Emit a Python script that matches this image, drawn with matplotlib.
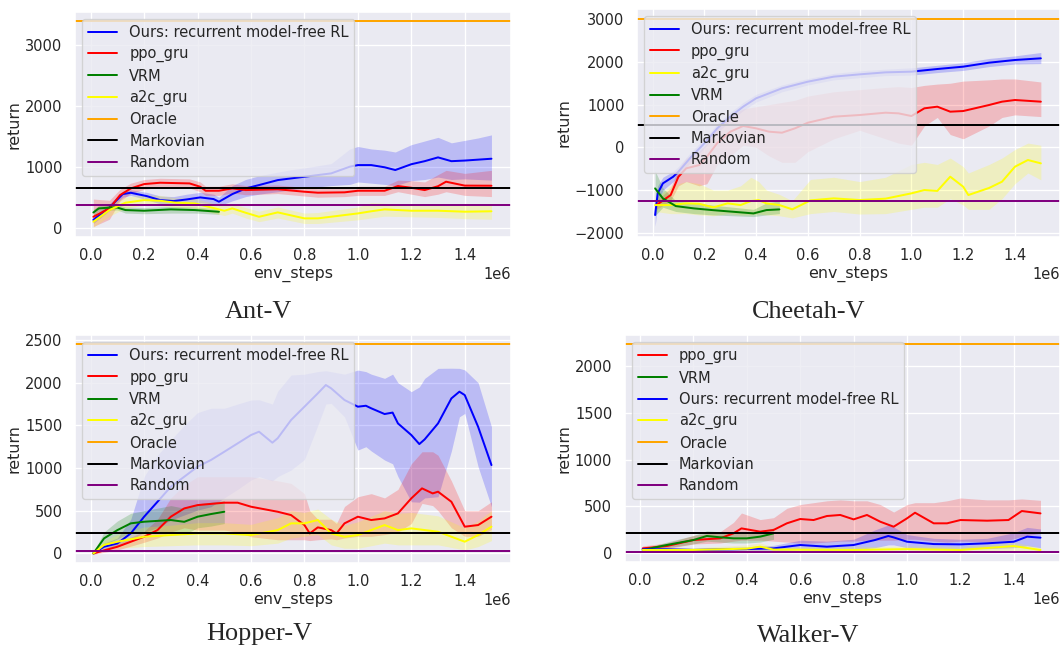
import matplotlib
matplotlib.use("Agg")
import matplotlib.pyplot as plt
import numpy as np
import seaborn as sns

# ---------------- Ant-V ----------------
ant_ours_x = [0.01, 0.07, 0.12, 0.15, 0.21, 0.26, 0.31, 0.36, 0.41, 0.46, 0.48, 0.53, 0.58, 0.63, 0.7, 0.75,
              0.8, 0.9, 0.97, 1.0, 1.05, 1.1, 1.14, 1.2, 1.25, 1.3, 1.35, 1.4, 1.45, 1.5]
ant_ours = [140, 343, 561, 583, 528, 463, 447, 474, 507, 480, 436, 561, 654, 709, 790, 818,
            845, 900, 1010, 1036, 1036, 1000, 955, 1050, 1100, 1162, 1100, 1110, 1125, 1140]
ant_ours_lo = [80, 290, 510, 540, 470, 400, 380, 400, 420, 400, 370, 450, 520, 560, 600, 630,
               660, 700, 720, 760, 740, 720, 700, 780, 800, 840, 800, 810, 800, 790]
ant_ours_hi = [200, 400, 610, 630, 590, 530, 520, 560, 590, 560, 510, 700, 800, 860, 920, 960,
               990, 1060, 1300, 1340, 1300, 1280, 1250, 1370, 1430, 1490, 1400, 1440, 1480, 1530]

ant_ppo_x = [0.01, 0.07, 0.11, 0.15, 0.2, 0.26, 0.37, 0.41, 0.43, 0.48, 0.53, 0.58, 0.7, 0.8, 0.85, 0.95,
             1.0, 1.1, 1.15, 1.2, 1.25, 1.3, 1.33, 1.4, 1.5]
ant_ppo = [190, 327, 545, 654, 725, 747, 736, 681, 616, 616, 654, 627, 640, 600, 584, 590,
           616, 616, 693, 665, 627, 690, 764, 700, 698]
ant_ppo_lo = [30, 150, 450, 570, 640, 670, 660, 600, 540, 540, 580, 550, 570, 530, 510, 520,
              540, 540, 600, 560, 520, 560, 600, 540, 520]
ant_ppo_hi = [480, 460, 640, 740, 800, 820, 810, 760, 690, 690, 730, 700, 710, 670, 650, 660,
              690, 690, 790, 780, 760, 880, 950, 900, 950]

ant_vrm_x = [0.01, 0.03, 0.08, 0.1, 0.13, 0.2, 0.3, 0.39, 0.48]
ant_vrm = [260, 327, 343, 340, 300, 289, 311, 300, 272]
ant_vrm_lo = [190, 280, 300, 300, 250, 240, 250, 250, 230]
ant_vrm_hi = [310, 370, 390, 390, 350, 340, 360, 350, 320]

ant_a2c_x = [0.01, 0.07, 0.13, 0.2, 0.26, 0.32, 0.39, 0.45, 0.5, 0.53, 0.58, 0.63, 0.7, 0.8, 0.85, 0.9,
             1.0, 1.05, 1.1, 1.2, 1.3, 1.4, 1.5]
ant_a2c = [109, 300, 420, 463, 452, 420, 409, 343, 289, 327, 256, 190, 262, 164, 164, 191,
           245, 280, 311, 289, 289, 273, 280]
ant_a2c_lo = [20, 200, 330, 380, 370, 340, 330, 260, 210, 250, 170, 110, 170, 80, 80, 100,
              140, 170, 200, 190, 180, 160, 150]
ant_a2c_hi = [200, 400, 510, 550, 540, 500, 490, 420, 370, 400, 340, 280, 350, 250, 260, 290,
              350, 420, 410, 390, 400, 390, 390]

ant_oracle, ant_markov, ant_random = 3400, 655, 382

# ---------------- Cheetah-V ----------------
cheetah_ours_x = [0.01, 0.02, 0.04, 0.08, 0.1, 0.15, 0.2, 0.25, 0.3, 0.35, 0.4, 0.5, 0.6, 0.7, 0.8, 0.9,
                  1.0, 1.1, 1.2, 1.3, 1.4, 1.5]
cheetah_ours = [-1583, -1076, -842, -686, -569, -218, 94, 445, 718, 952, 1147, 1381, 1537, 1654, 1708, 1755,
                1771, 1833, 1888, 1981, 2044, 2083]
cheetah_ours_lo = [-1850, -1300, -1000, -800, -680, -330, -20, 340, 620, 860, 1060, 1300, 1460, 1580, 1630, 1680,
                   1690, 1750, 1800, 1890, 1950, 1960]
cheetah_ours_hi = [-1300, -900, -700, -560, -450, -100, 200, 550, 820, 1050, 1240, 1460, 1610, 1730, 1790, 1830,
                   1860, 1920, 1980, 2080, 2140, 2220]

cheetah_ppo_x = [0.015, 0.07, 0.1, 0.13, 0.18, 0.21, 0.25, 0.3, 0.35, 0.4, 0.45, 0.5, 0.55, 0.6, 0.7, 0.8,
                 0.9, 0.95, 1.0, 1.05, 1.1, 1.15, 1.2, 1.3, 1.35, 1.4, 1.5]
cheetah_ppo = [-1350, -1116, -688, -491, -414, -220, 100, 365, 500, 445, 367, 343, 445, 577, 718, 757,
               811, 796, 733, 913, 952, 835, 850, 991, 1069, 1108, 1069]
cheetah_ppo_lo = [-1450, -1250, -900, -800, -900, -850, -400, -200, 50, 0, -200, -350, -350, -100, 200, 400,
                  200, 100, 50, 500, 700, 300, 200, 500, 700, 760, 720]
cheetah_ppo_hi = [-1250, -950, -500, -250, -100, 100, 450, 750, 900, 950, 1000, 1050, 1100, 1200, 1300, 1350,
                  1400, 1420, 1400, 1450, 1480, 1500, 1550, 1580, 1600, 1600, 1530]

cheetah_a2c_x = [0.01, 0.07, 0.13, 0.18, 0.235, 0.29, 0.34, 0.38, 0.41, 0.44, 0.49, 0.54, 0.61, 0.7, 0.8, 0.9,
                 1.0, 1.05, 1.1, 1.15, 1.2, 1.22, 1.3, 1.35, 1.4, 1.45, 1.5]
cheetah_a2c = [-1350, -1350, -1310, -1320, -1404, -1310, -1350, -1256, -1233, -1310, -1350, -1450, -1240, -1193,
               -1232, -1200, -1076, -998, -1020, -686, -920, -1115, -950, -803, -452, -296, -374]
cheetah_a2c_lo = [-1500, -1550, -1550, -1580, -1600, -1550, -1580, -1580, -1560, -1580, -1600, -1650, -1550, -1500,
                  -1560, -1550, -1450, -1400, -1400, -1200, -1350, -1450, -1450, -1200, -850, -600, -760]
cheetah_a2c_hi = [-1200, -900, -800, -850, -1000, -1000, -900, -700, -800, -1000, -1100, -1250, -750, -700,
                  -800, -700, -400, -350, -400, -250, -450, -600, -400, -250, -50, 100, 50]

cheetah_vrm_x = [0.01, 0.04, 0.09, 0.16, 0.23, 0.31, 0.39, 0.44, 0.49]
cheetah_vrm = [-960, -1194, -1374, -1428, -1467, -1506, -1545, -1467, -1451]
cheetah_vrm_lo = [-1600, -1400, -1500, -1550, -1580, -1600, -1620, -1580, -1550]
cheetah_vrm_hi = [-550, -950, -1250, -1300, -1350, -1400, -1450, -1300, -1250]

cheetah_oracle, cheetah_markov, cheetah_random = 3000, 523, -1256

# ---------------- Hopper-V ----------------
hopper_ours_x = [0.01, 0.05, 0.1, 0.15, 0.2, 0.25, 0.3, 0.35, 0.4, 0.45, 0.5, 0.55, 0.6, 0.63, 0.68, 0.7,
                 0.75, 0.8, 0.85, 0.88, 0.9, 0.95, 1.0, 1.03, 1.05, 1.1, 1.13, 1.15, 1.2, 1.23, 1.25, 1.3,
                 1.35, 1.38, 1.4, 1.45, 1.5]
hopper_ours = [0, 78, 117, 234, 430, 605, 781, 898, 1016, 1094, 1191, 1289, 1387, 1426, 1297, 1350,
               1563, 1719, 1875, 1973, 1934, 1797, 1719, 1730, 1700, 1633, 1650, 1523, 1387, 1281, 1336, 1523,
               1816, 1895, 1855, 1484, 1035]
hopper_ours_lo = [-10, 40, 80, 150, 250, 300, 391, 450, 508, 547, 650, 750, 859, 900, 850, 900,
                  977, 1100, 1500, 1750, 1758, 1600, 1211, 1250, 1200, 1094, 1050, 900, 605, 600, 650, 664,
                  1200, 1600, 1640, 1016, 547]
hopper_ours_hi = [10, 120, 180, 400, 900, 1150, 1328, 1500, 1650, 1700, 1700, 1750, 1797, 1800, 1750, 1900,
                  2090, 2100, 2130, 2140, 2129, 2100, 2148, 2130, 2100, 2051, 2100, 2000, 1895, 1950, 2050, 2168,
                  2170, 2168, 2150, 2000, 1484]

hopper_ppo_x = [0.01, 0.1, 0.2, 0.25, 0.3, 0.35, 0.4, 0.5, 0.55, 0.6, 0.7, 0.75, 0.8, 0.82, 0.85, 0.9,
                0.92, 0.95, 1.0, 1.05, 1.1, 1.15, 1.2, 1.24, 1.28, 1.3, 1.35, 1.4, 1.45, 1.5]
hopper_ppo = [0, 78, 195, 273, 430, 527, 566, 594, 594, 547, 488, 449, 332, 234, 305, 273,
              234, 352, 430, 391, 410, 469, 645, 762, 703, 723, 605, 313, 332, 430]
hopper_ppo_lo = [-10, 40, 130, 180, 250, 300, 273, 273, 250, 195, 160, 160, 160, 150, 160, 170,
                 160, 180, 200, 200, 220, 250, 350, 586, 560, 500, 300, 200, 200, 280]
hopper_ppo_hi = [10, 120, 260, 400, 650, 800, 898, 898, 898, 898, 850, 820, 700, 500, 400, 400,
                 350, 550, 664, 700, 650, 750, 1050, 1191, 1191, 1150, 850, 500, 500, 605]

hopper_vrm_x = [0.01, 0.05, 0.1, 0.15, 0.2, 0.3, 0.35, 0.4, 0.45, 0.5]
hopper_vrm = [0, 176, 273, 352, 371, 391, 370, 430, 461, 488]
hopper_vrm_lo = [-10, 100, 170, 250, 250, 250, 220, 300, 320, 350]
hopper_vrm_hi = [10, 250, 380, 470, 500, 560, 530, 580, 600, 620]

hopper_a2c_x = [0.01, 0.05, 0.1, 0.2, 0.3, 0.4, 0.5, 0.6, 0.7, 0.75, 0.8, 0.85, 0.9, 0.95, 1.0, 1.1,
                1.15, 1.2, 1.3, 1.4, 1.45, 1.5]
hopper_a2c = [0, 100, 137, 195, 215, 234, 234, 215, 273, 352, 352, 391, 234, 195, 215, 332,
              273, 293, 254, 137, 215, 313]
hopper_a2c_lo = [-10, 60, 60, 80, 90, 100, 100, 90, 120, 180, 200, 220, 100, 60, 60, 120,
                 100, 100, 100, 40, 80, 150]
hopper_a2c_hi = [10, 150, 220, 310, 330, 360, 360, 340, 420, 500, 480, 520, 400, 330, 370, 500,
                 470, 480, 440, 300, 380, 500]

hopper_oracle, hopper_markov, hopper_random = 2450, 234, 27

# ---------------- Walker-V ----------------
walker_ppo_x = [0.01, 0.1, 0.2, 0.3, 0.35, 0.38, 0.45, 0.5, 0.55, 0.6, 0.65, 0.7, 0.75, 0.8, 0.85, 0.9,
                0.95, 1.0, 1.03, 1.1, 1.15, 1.2, 1.3, 1.38, 1.43, 1.5]
walker_ppo = [53, 78, 142, 160, 213, 266, 231, 249, 320, 366, 355, 398, 409, 362, 409, 337,
              284, 373, 433, 320, 320, 355, 348, 355, 451, 426]
walker_ppo_lo = [30, 50, 100, 110, 130, 140, 140, 130, 120, 110, 110, 120, 130, 130, 140, 140,
                 140, 150, 150, 130, 120, 130, 124, 140, 180, 213]
walker_ppo_hi = [80, 110, 190, 230, 330, 430, 360, 380, 480, 520, 540, 560, 570, 560, 560, 520,
                 440, 520, 540, 540, 560, 590, 570, 570, 580, 565]

walker_vrm_x = [0.01, 0.1, 0.2, 0.25, 0.3, 0.35, 0.4, 0.45, 0.5]
walker_vrm = [36, 89, 142, 185, 171, 160, 160, 178, 213]
walker_vrm_lo = [20, 60, 100, 130, 120, 110, 110, 120, 150]
walker_vrm_hi = [50, 120, 190, 240, 230, 220, 220, 240, 270]

walker_ours_x = [0.01, 0.1, 0.2, 0.4, 0.5, 0.6, 0.7, 0.8, 0.88, 0.93, 0.95, 1.0, 1.1, 1.2, 1.3, 1.4,
                 1.45, 1.5]
walker_ours = [43, 43, 36, 46, 53, 89, 71, 89, 142, 185, 170, 124, 99, 96, 107, 124, 178, 167]
walker_ours_lo = [30, 30, 20, 25, 25, 40, 30, 40, 60, 90, 90, 60, 50, 50, 50, 60, 80, 60]
walker_ours_hi = [60, 60, 55, 70, 85, 140, 130, 150, 250, 302, 280, 200, 160, 150, 160, 220, 277, 260]

walker_a2c_x = [0.01, 0.2, 0.4, 0.45, 0.5, 0.8, 1.0, 1.2, 1.4, 1.5]
walker_a2c = [36, 36, 50, 71, 40, 36, 45, 36, 78, 36]
walker_a2c_lo = [20, 15, 20, 30, 15, 10, 15, 10, 30, 10]
walker_a2c_hi = [50, 60, 90, 110, 70, 70, 80, 70, 120, 60]

walker_oracle, walker_markov, walker_random = 2230, 220, 18

OURS = "Ours: recurrent model-free RL"

DPI = 95.4
sns.set_theme(style="darkgrid", context="notebook")


def draw_panel(ax, curves, baselines, ylim, yticks, xlim):
    for label, color, x, m, lo, hi in curves:
        xs = np.asarray(x) * 1e6
        ax.fill_between(xs, lo, hi, color=color, alpha=0.2, linewidth=0)
        ax.plot(xs, m, color=color, lw=1.5, label=label)
    for label, color, val in baselines:
        ax.axhline(val, color=color, lw=1.5, label=label)
    ax.set_xlim(*xlim)
    ax.set_ylim(*ylim)
    ax.set_yticks(yticks)
    ax.set_xticks(np.arange(0, 1.41, 0.2) * 1e6)
    ax.tick_params(axis="x", length=0, pad=8.5)
    ax.tick_params(axis="y", length=0, pad=9.5)
    ax.set_xlabel("env_steps", labelpad=2.5)
    ax.set_ylabel("return", labelpad=2.5)
    ax.legend(loc="upper left", labelspacing=0.43)


fig = plt.figure(figsize=(1060 / DPI, 646 / DPI), dpi=DPI)
W, H = 1060, 646


def add_axes(left, right, top, bottom):
    return fig.add_axes([left / W, (H - bottom) / H, (right - left) / W, (bottom - top) / H])


ax_ant = add_axes(75.2, 510.7, 11.7, 236.7)
ax_chee = add_axes(637, 1060, 9, 236.7)
ax_hop = add_axes(75.2, 510.7, 335, 562.7)
ax_walk = add_axes(624.8, 1060, 335, 561.7)

draw_panel(ax_ant,
           [(OURS, "blue", ant_ours_x, ant_ours, ant_ours_lo, ant_ours_hi),
            ("ppo_gru", "red", ant_ppo_x, ant_ppo, ant_ppo_lo, ant_ppo_hi),
            ("VRM", "green", ant_vrm_x, ant_vrm, ant_vrm_lo, ant_vrm_hi),
            ("a2c_gru", "yellow", ant_a2c_x, ant_a2c, ant_a2c_lo, ant_a2c_hi)],
           [("Oracle", "orange", ant_oracle), ("Markovian", "black", ant_markov),
            ("Random", "purple", ant_random)],
           (-136, 3546), [0, 1000, 2000, 3000], (-0.058e6, 1.572e6))

draw_panel(ax_chee,
           [(OURS, "blue", cheetah_ours_x, cheetah_ours, cheetah_ours_lo, cheetah_ours_hi),
            ("ppo_gru", "red", cheetah_ppo_x, cheetah_ppo, cheetah_ppo_lo, cheetah_ppo_hi),
            ("a2c_gru", "yellow", cheetah_a2c_x, cheetah_a2c, cheetah_a2c_lo, cheetah_a2c_hi),
            ("VRM", "green", cheetah_vrm_x, cheetah_vrm, cheetah_vrm_lo, cheetah_vrm_hi)],
           [("Oracle", "orange", cheetah_oracle), ("Markovian", "black", cheetah_markov),
            ("Random", "purple", cheetah_random)],
           (-2090, 3237), [-2000, -1000, 0, 1000, 2000, 3000], (-0.06e6, 1.574e6))

draw_panel(ax_hop,
           [(OURS, "blue", hopper_ours_x, hopper_ours, hopper_ours_lo, hopper_ours_hi),
            ("ppo_gru", "red", hopper_ppo_x, hopper_ppo, hopper_ppo_lo, hopper_ppo_hi),
            ("VRM", "green", hopper_vrm_x, hopper_vrm, hopper_vrm_lo, hopper_vrm_hi),
            ("a2c_gru", "yellow", hopper_a2c_x, hopper_a2c, hopper_a2c_lo, hopper_a2c_hi)],
           [("Oracle", "orange", hopper_oracle), ("Markovian", "black", hopper_markov),
            ("Random", "purple", hopper_random)],
           (-109, 2559), [0, 500, 1000, 1500, 2000, 2500], (-0.058e6, 1.572e6))

draw_panel(ax_walk,
           [("ppo_gru", "red", walker_ppo_x, walker_ppo, walker_ppo_lo, walker_ppo_hi),
            ("VRM", "green", walker_vrm_x, walker_vrm, walker_vrm_lo, walker_vrm_hi),
            (OURS, "blue", walker_ours_x, walker_ours, walker_ours_lo, walker_ours_hi),
            ("a2c_gru", "yellow", walker_a2c_x, walker_a2c, walker_a2c_lo, walker_a2c_hi)],
           [("Oracle", "orange", walker_oracle), ("Markovian", "black", walker_markov),
            ("Random", "purple", walker_random)],
           (-89, 2327), [0, 500, 1000, 1500, 2000], (-0.057e6, 1.573e6))

# captions under each panel, like in the paper
cap = dict(ha="center", va="baseline", fontsize=19.8, family=["Liberation Serif", "DejaVu Serif"])
fig.text(258.6 / W, 1 - 318 / H, "Ant-V", **cap)
fig.text(808.5 / W, 1 - 318 / H, "Cheetah-V", **cap)
fig.text(259 / W, 1 - 640 / H, "Hopper-V", **cap)
fig.text(808.5 / W, 1 - 641.5 / H, "Walker-V", **cap)

fig.savefig("out.png", dpi=DPI, facecolor="white")
